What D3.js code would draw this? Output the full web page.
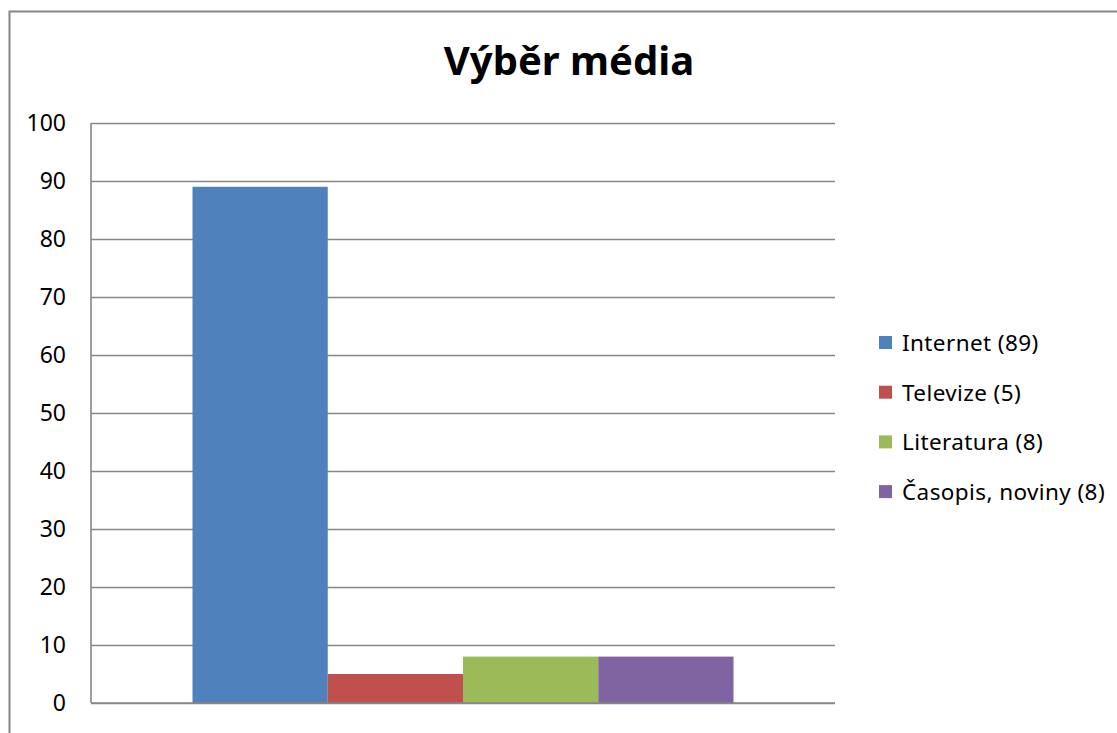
<!DOCTYPE html>
<html lang="cs">
<head>
    <meta charset="UTF-8">
    <title>Výběr média</title>
    <script src="https://cdn.jsdelivr.net/npm/d3@7"></script>
    <style>
        body {
            margin: 0;
            padding: 0;
            background: #ffffff;
            font-family: "Noto Sans", "Open Sans", sans-serif;
        }
        svg text {
            fill: #000;
        }
    </style>
</head>
<body>
    <svg id="chart" width="1117" height="733"></svg>

    <script>
        // data
        const categories = ["Výběr média"];
        const seriesNames = ["Internet (89)", "Televize (5)", "Literatura (8)", "Časopis, noviny (8)"];
        const seriesValues = [89, 5, 8, 8];
        const seriesColors = ["#4F81BD", "#C0504D", "#9BBB59", "#8064A2"];
        const yTicks = [0, 10, 20, 30, 40, 50, 60, 70, 80, 90, 100];

        const svg = d3.select("#chart");

        // outer chart border (runs off the right and bottom of the picture)
        svg.append("rect")
            .attr("x", 9.5)
            .attr("y", 11.5)
            .attr("width", 1200)
            .attr("height", 800)
            .attr("fill", "none")
            .attr("stroke", "#868686")
            .attr("stroke-width", 2);

        const plot = { left: 91, right: 835, top: 123, bottom: 703 };

        const y = d3.scaleLinear()
            .domain([0, 100])
            .range([plot.bottom, plot.top]);

        const x0 = d3.scaleBand()
            .domain(categories)
            .range([plot.left, plot.right])
            .paddingOuter(0.1876)
            .paddingInner(0);

        const x1 = d3.scaleBand()
            .domain(seriesNames)
            .range([0, x0.bandwidth()])
            .padding(0);

        // gridlines + y labels
        const yAxis = d3.axisLeft(y)
            .tickValues(yTicks)
            .tickSize(-(plot.right - plot.left))
            .tickPadding(25)
            .tickFormat(d3.format("d"));

        const gy = svg.append("g")
            .attr("transform", `translate(${plot.left},0)`)
            .call(yAxis);

        gy.select(".domain").remove();
        gy.selectAll(".tick line")
            .attr("stroke", "#868686")
            .attr("stroke-width", 1.6);
        gy.selectAll(".tick text")
            .attr("font-family", "'Noto Sans', sans-serif")
            .attr("font-size", 23)
            .attr("dy", "0.34em");

        // vertical axis line
        svg.append("line")
            .attr("x1", plot.left)
            .attr("x2", plot.left)
            .attr("y1", plot.top)
            .attr("y2", plot.bottom)
            .attr("stroke", "#868686")
            .attr("stroke-width", 1.6);

        // bars
        const bars = svg.append("g")
            .attr("transform", `translate(${x0(categories[0])},0)`);

        bars.selectAll("rect")
            .data(seriesNames)
            .enter()
            .append("rect")
            .attr("x", d => x1(d))
            .attr("width", x1.bandwidth())
            .attr("y", (d, i) => y(seriesValues[i]))
            .attr("height", (d, i) => y(0) - y(seriesValues[i]))
            .attr("fill", (d, i) => seriesColors[i]);

        // bottom axis line over the bars
        svg.append("line")
            .attr("x1", plot.left)
            .attr("x2", plot.right)
            .attr("y1", plot.bottom)
            .attr("y2", plot.bottom)
            .attr("stroke", "#868686")
            .attr("stroke-width", 1.6);

        // title
        svg.append("text")
            .attr("x", 569)
            .attr("y", 75)
            .attr("text-anchor", "middle")
            .attr("font-family", "'Noto Sans', sans-serif")
            .attr("font-weight", "bold")
            .attr("font-size", 40)
            .text(categories[0]);

        // legend
        const legend = svg.append("g")
            .attr("transform", "translate(879,343)");

        const rows = legend.selectAll("g")
            .data(seriesNames)
            .enter()
            .append("g")
            .attr("transform", (d, i) => `translate(0,${i * 49.7})`);

        rows.append("rect")
            .attr("x", 0)
            .attr("y", -7)
            .attr("width", 13)
            .attr("height", 13)
            .attr("fill", (d, i) => seriesColors[i]);

        rows.append("text")
            .attr("x", 23)
            .attr("y", 0)
            .attr("dy", "0.35em")
            .attr("font-family", "'Noto Sans', sans-serif")
            .attr("font-size", 22.5)
            .attr("letter-spacing", 0.4)
            .text(d => d);
    </script>
</body>
</html>
